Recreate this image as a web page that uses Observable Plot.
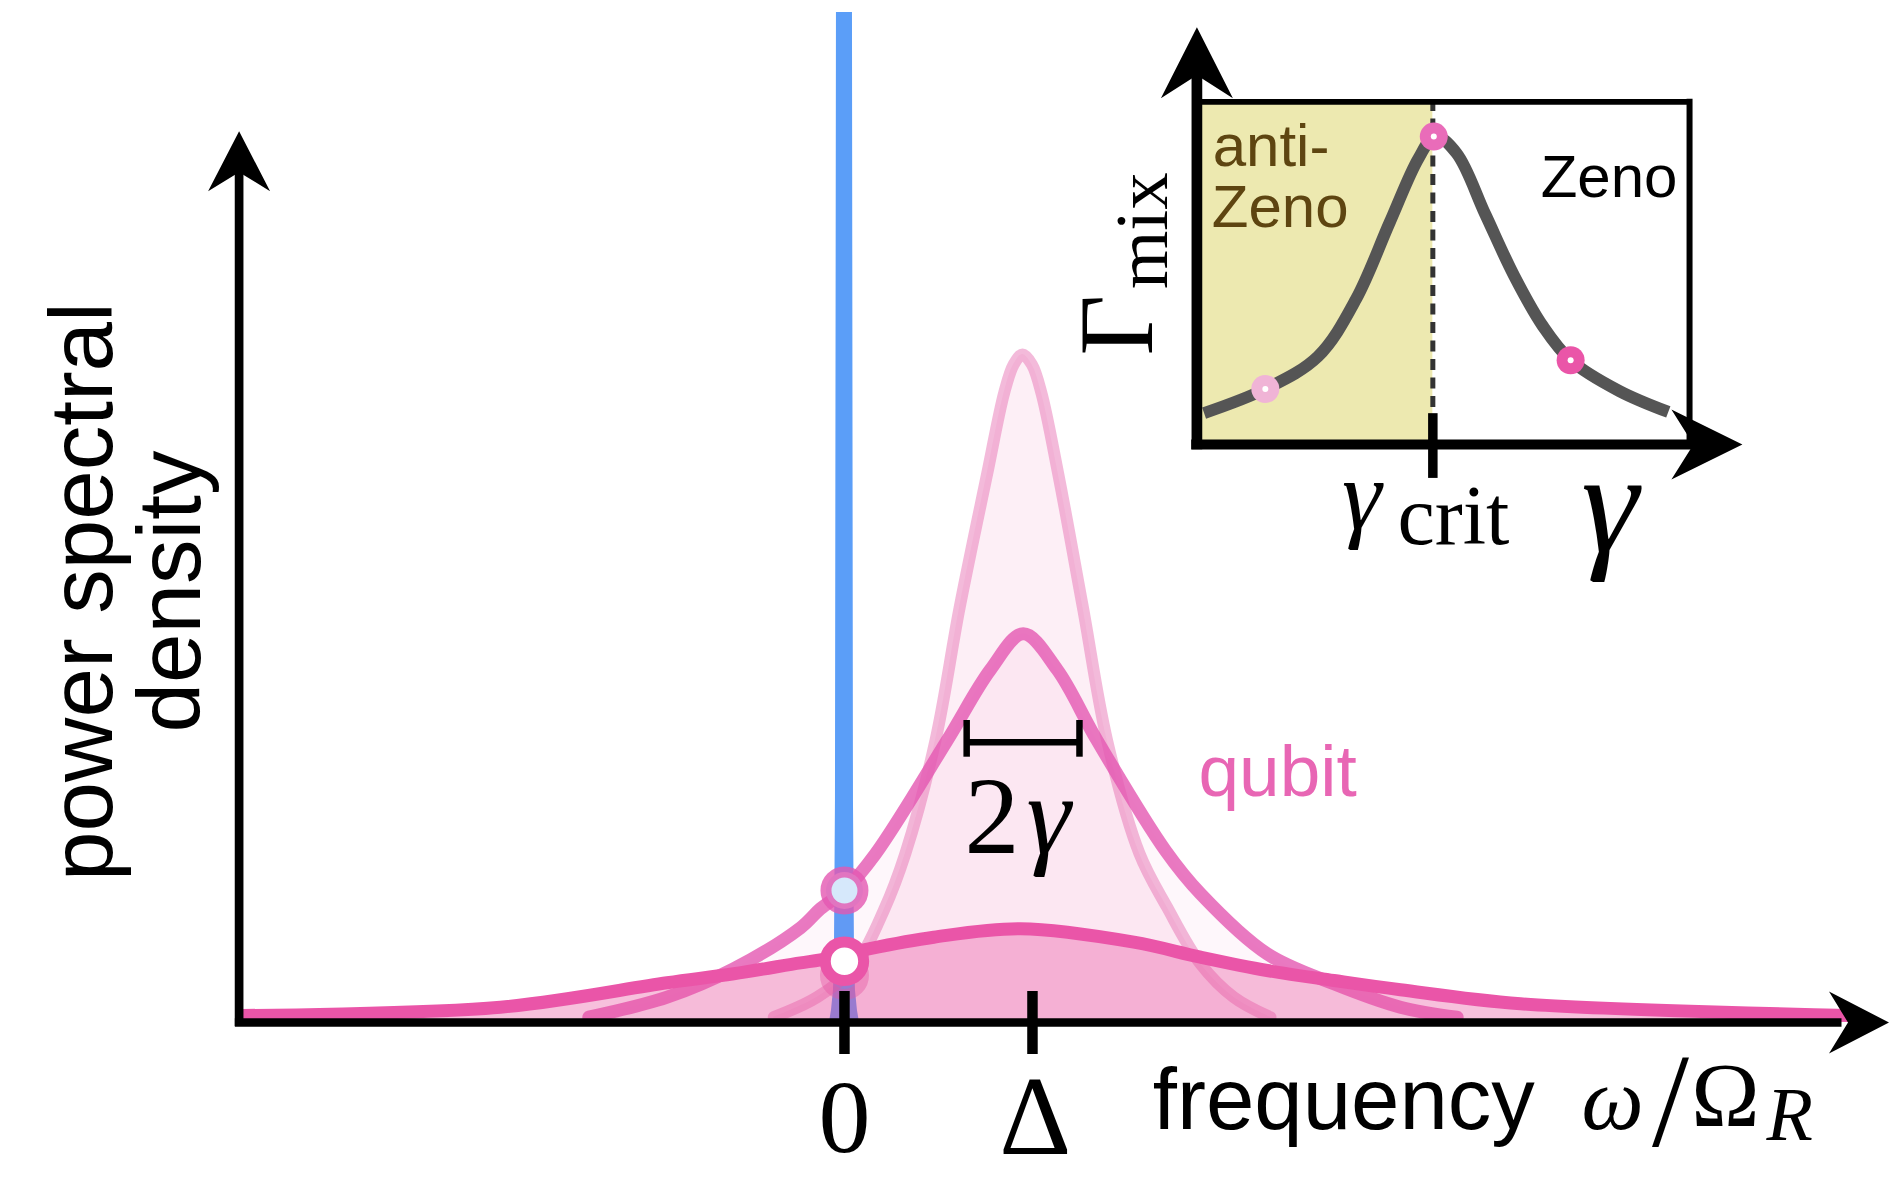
<!DOCTYPE html>
<html><head><meta charset="utf-8">
<script src="https://cdn.jsdelivr.net/npm/d3@7"></script>
<script src="https://cdn.jsdelivr.net/npm/@observablehq/plot@0.6"></script>
<style>
html,body{margin:0;padding:0;background:#fff;overflow:hidden}
#wrap{position:relative;width:1900px;height:1196px}
#wrap svg{position:absolute;left:0;top:0}
</style></head><body><div id="wrap"></div>
<script>
// ---------- main panel data (frequency in units of Δ, density arbitrary) ----------
const freqTicks = [0, 1];
const freqTickLabels = ["0", "Δ"];
const yLabelLines = ["power spectral", "density"];

const blueX = [-0.0798, -0.0691, -0.0585, -0.0532, -0.0479, -0.0426, 0.0426, 0.0479, 0.0532, 0.0585, 0.0691, 0.0798];
const blueY = [0, 0.12, 0.32, 0.72, 2.22, 10.1, 10.1, 2.22, 0.72, 0.32, 0.12, 0];

const narrowX = [-0.376, -0.145, 0.049, 0.209, 0.324, 0.484, 0.613, 0.759, 0.85, 0.9, 0.947, 0.997, 1.047, 1.137, 1.268, 1.397, 1.569, 1.716, 1.894, 2.071, 2.266];
const narrowY = [0.053, 0.253, 0.553, 1.12, 1.69, 2.82, 4.153, 5.487, 6.3, 6.58, 6.68, 6.58, 6.3, 5.487, 4.153, 2.82, 1.69, 1.153, 0.587, 0.253, 0.053];

const mediumX = [-1.36, -0.943, -0.589, -0.234, -0.128, 0, 0.165, 0.546, 0.777, 0.951, 1.131, 1.344, 1.707, 1.894, 2.248, 2.603, 2.957, 3.259];
const mediumY = [0.053, 0.253, 0.537, 0.947, 1.137, 1.32, 1.687, 2.82, 3.53, 3.887, 3.53, 2.82, 1.72, 1.287, 0.687, 0.387, 0.153, 0.053];

const broadX = [-3.2, -1.83, -0.943, -0.589, -0.234, -0.128, 0.129, 0.475, 0.936, 1.539, 1.894, 2.248, 2.603, 2.957, 3.596, 5.34];
const broadY = [0.07, 0.153, 0.397, 0.487, 0.597, 0.627, 0.737, 0.853, 0.937, 0.803, 0.653, 0.52, 0.42, 0.327, 0.187, 0.07];

const markerX = [0, 0, 0];            // crossings at ω = 0
const markerY = [1.32, 0.613, 0.47];  // medium, broad, narrow curves
const qubitCenter = 0.95;
const gammaHalf = 0.30;

// ---------- inset data ----------
const insetGamma = [0.0305, 0.29, 0.513, 0.675, 0.817, 0.939, 1.01, 1.101, 1.223, 1.345, 1.466, 1.584, 1.791, 1.998];
const insetRate  = [0.0917, 0.162, 0.257, 0.425, 0.648, 0.835, 0.9, 0.85, 0.671, 0.492, 0.346, 0.246, 0.156, 0.095];
const insetDotGamma = [0.29, 1.004, 1.584];
const insetDotRate  = [0.162, 0.899, 0.246];
const gammaCrit = 1;

// ---------- helpers ----------
const tbl = (xs, ys) => xs.map((x, i) => ({x, y: ys[i]}));
const SERIF = "'Liberation Serif', 'DejaVu Serif', serif";
const SANS = "'Liberation Sans', Arial, Helvetica, sans-serif";
const arrowSym = (len, half, notch, dir) => ({draw(ctx) {
  if (dir === "up") { ctx.moveTo(0, 0); ctx.lineTo(half, len); ctx.lineTo(0, notch); ctx.lineTo(-half, len); }
  else { ctx.moveTo(0, 0); ctx.lineTo(-len, half); ctx.lineTo(-notch, 0); ctx.lineTo(-len, -half); }
  ctx.closePath();
}});

const blue = tbl(blueX, blueY), narrow = tbl(narrowX, narrowY), medium = tbl(mediumX, mediumY), broad = tbl(broadX, broadY);
const markers = tbl(markerX, markerY);
const PINK = "#e8519f";
const CURVE = "catmull-rom";

const xMin = -3.22, xMax = 5.556, yTop = 8.913;

const main = Plot.plot({
  width: 1900, height: 1196,
  x: {domain: [xMin, xMax], range: [238.6, 1888.5], axis: null},
  y: {domain: [0, 10.22], range: [1022, 0], axis: null},
  style: {background: "white"},
  marks: [
    Plot.areaY(blue, {x: "x", y: "y", fill: "#5b9ef8", curve: "linear"}),
    Plot.areaY(narrow, {x: "x", y: "y", fill: PINK, fillOpacity: 0.09, curve: CURVE}),
    Plot.line(narrow, {x: "x", y: "y", stroke: "#e25aa8", strokeOpacity: 0.42, strokeWidth: 12, curve: CURVE}),
    Plot.areaY(medium, {x: "x", y: "y", fill: PINK, fillOpacity: 0.045, curve: CURVE}),
    Plot.line(medium, {x: "x", y: "y", stroke: "#e358b2", strokeOpacity: 0.8, strokeWidth: 13, curve: CURVE}),
    Plot.dot([markers[2]], {x: "x", y: "y", r: 19, stroke: "#e25aa8", strokeOpacity: 0.42, strokeWidth: 11, fill: "none"}),
    Plot.areaY(broad, {x: "x", y: "y", fill: PINK, fillOpacity: 0.36, curve: CURVE}),
    Plot.line(broad, {x: "x", y: "y", stroke: "#ea55a8", strokeWidth: 13, curve: CURVE}),
    // axes
    Plot.ruleX([xMin], {y1: -0.04, y2: yTop - 0.4, stroke: "black", strokeWidth: 8.7}),
    Plot.ruleY([0], {x1: xMin - 0.02, x2: xMax - 0.25, stroke: "black", strokeWidth: 8.5}),
    Plot.dot([{x: xMin, y: yTop}], {x: "x", y: "y", symbol: arrowSym(60, 31, 41, "up"), r: 10, fill: "black", stroke: "none"}),
    Plot.dot([{x: xMax, y: 0}], {x: "x", y: "y", symbol: arrowSym(60, 31, 41, "right"), r: 10, fill: "black", stroke: "none"}),
    Plot.ruleX(freqTicks, {x: d => d, y1: -0.32, y2: 0.31, stroke: "black", strokeWidth: 10.5}),
    Plot.text([freqTickLabels[0]], {x: freqTicks[0], y: -1.29, text: d => d, fontSize: 104, fontFamily: SERIF, lineAnchor: "bottom"}),
    Plot.text([freqTickLabels[1]], {x: freqTicks[1] + 0.015, y: -1.31, text: d => d, fontSize: 112, fontFamily: SERIF, lineAnchor: "bottom"}),
    // crossing markers
    Plot.dot([markers[0]], {x: "x", y: "y", r: 18.5, stroke: "#e358b2", strokeOpacity: 0.8, strokeWidth: 11, fill: "#d6e8fb"}),
    Plot.dot([markers[1]], {x: "x", y: "y", r: 19.2, stroke: "#ea55a8", strokeWidth: 11, fill: "white"}),
    // 2γ width bar
    Plot.ruleY([2.803], {x1: qubitCenter - gammaHalf, x2: qubitCenter + gammaHalf, stroke: "black", strokeWidth: 6.5}),
    Plot.ruleX([qubitCenter - gammaHalf, qubitCenter + gammaHalf], {x: d => d, y1: 2.653, y2: 3.02, stroke: "black", strokeWidth: 6.5}),
    Plot.text(["2"], {x: 0.785, y: 1.70, text: d => d, fontSize: 110, fontFamily: SERIF, lineAnchor: "bottom"}),
    Plot.text(["γ"], {x: 1.085, y: 1.70, text: d => d, fontSize: 112, fontFamily: SERIF, fontStyle: "italic", lineAnchor: "bottom"}),
    Plot.text(["qubit"], {x: 1.883, y: 2.27, text: d => d, fontSize: 73, fontFamily: SANS, fill: "#e866b4", textAnchor: "start", lineAnchor: "bottom"}),
    // axis titles
    Plot.text(["frequency"], {x: 1.64, y: -1.06, text: d => d, fontSize: 87, fontFamily: SANS, textAnchor: "start", lineAnchor: "bottom"}),
    Plot.text(["ω"], {x: 3.92, y: -1.063, text: d => d, fontSize: 88, fontFamily: SERIF, fontStyle: "italic", textAnchor: "start", lineAnchor: "bottom"}),
    Plot.text(["/"], {x: 4.394, y: -1.23, text: d => d, fontSize: 133, fontFamily: SERIF, lineAnchor: "bottom"}),
    Plot.text(["Ω"], {x: 4.686, y: -1.03, text: d => d, fontSize: 92, fontFamily: SERIF, lineAnchor: "bottom"}),
    Plot.text(["R"], {x: 4.905, y: -1.17, text: d => d, fontSize: 76, fontFamily: SERIF, fontStyle: "italic", textAnchor: "start", lineAnchor: "bottom"}),
    Plot.text(yLabelLines, {x: (d, i) => [-3.895, -3.426][i], y: 4.31, text: d => d, rotate: -90, fontSize: 89, fontFamily: SANS, textAnchor: "middle", lineAnchor: "bottom"})
  ]
});

// ---------- inset ----------
const curve = tbl(insetGamma, insetRate);
const idots = tbl(insetDotGamma, insetDotRate);
const dotColors = ["#f0b4d6", "#e96cb9", "#ea55a8"];
const gMax = 2.088, gTip = 2.312, rTip = 1.218;
const BROWN = "#5e4511";

const inset = Plot.plot({
  width: 1900, height: 1196,
  x: {domain: [0, gTip], range: [1196.4, 1741.9], axis: null},
  y: {domain: [0, rTip], range: [444, 26.8], axis: null},
  style: {background: "transparent"},
  marks: [
    Plot.rect([0], {x1: 0, x2: gammaCrit, y1: 0, y2: 1, fill: "#ede9b0"}),
    Plot.ruleX([gammaCrit], {y1: 0, y2: 1, stroke: "#333", strokeWidth: 5, strokeDasharray: "11,7.5"}),
    Plot.ruleY([1], {x1: 0, x2: gMax, stroke: "black", strokeWidth: 5.7}),
    Plot.ruleX([gMax], {y1: 0, y2: 1.008, stroke: "black", strokeWidth: 6}),
    Plot.line(curve, {x: "x", y: "y", stroke: "#555555", strokeWidth: 12, strokeLinecap: "butt", curve: "catmull-rom"}),
    Plot.ruleX([0], {y1: -0.015, y2: rTip - 0.13, stroke: "black", strokeWidth: 10.7}),
    Plot.ruleY([0], {x1: -0.022, x2: gTip - 0.2, stroke: "black", strokeWidth: 10}),
    Plot.dot([{x: 0, y: rTip}], {x: "x", y: "y", symbol: arrowSym(71, 36, 48, "up"), r: 10, fill: "black", stroke: "none"}),
    Plot.dot([{x: gTip, y: 0}], {x: "x", y: "y", symbol: arrowSym(71, 35, 49, "right"), r: 10, fill: "black", stroke: "none"}),
    Plot.ruleX([gammaCrit], {y1: -0.099, y2: 0.09, stroke: "black", strokeWidth: 9.5}),
    ...idots.map((d, i) => Plot.dot([d], {x: "x", y: "y", r: 14, fill: dotColors[i], stroke: "none"})),
    Plot.dot(idots, {x: "x", y: "y", r: 3, fill: "white", stroke: "none"}),
    Plot.text(["anti-"], {x: 0.067, y: 0.813, text: d => d, fontSize: 60, fontFamily: SANS, fill: BROWN, textAnchor: "start", lineAnchor: "bottom"}),
    Plot.text(["Zeno"], {x: 0.063, y: 0.634, text: d => d, fontSize: 60, fontFamily: SANS, fill: BROWN, textAnchor: "start", lineAnchor: "bottom"}),
    Plot.text(["Zeno"], {x: 1.457, y: 0.723, text: d => d, fontSize: 60, fontFamily: SANS, fill: "black", textAnchor: "start", lineAnchor: "bottom"}),
    Plot.text(["γ"], {x: 0.615, y: -0.248, text: d => d, fontSize: 100, fontFamily: SERIF, fontStyle: "italic", textAnchor: "start", lineAnchor: "bottom"}),
    Plot.text(["crit"], {x: 0.85, y: -0.291, text: d => d, fontSize: 84, fontFamily: SERIF, textAnchor: "start", lineAnchor: "bottom"}),
    Plot.text(["γ"], {x: 1.629, y: -0.312, text: d => d, fontSize: 145, fontFamily: SERIF, fontStyle: "italic", textAnchor: "start", lineAnchor: "bottom"}),
    Plot.text(["Γ"], {x: -0.189, y: 0.26, text: d => d, rotate: -90, fontSize: 105, fontFamily: SERIF, textAnchor: "start", lineAnchor: "bottom"}),
    Plot.text(["mix"], {x: -0.126, y: 0.454, text: d => d, rotate: -90, fontSize: 75, fontFamily: SERIF, textAnchor: "start", lineAnchor: "bottom"})
  ]
});

const wrap = document.getElementById("wrap");
wrap.appendChild(main);
wrap.appendChild(inset);
</script></body></html>
